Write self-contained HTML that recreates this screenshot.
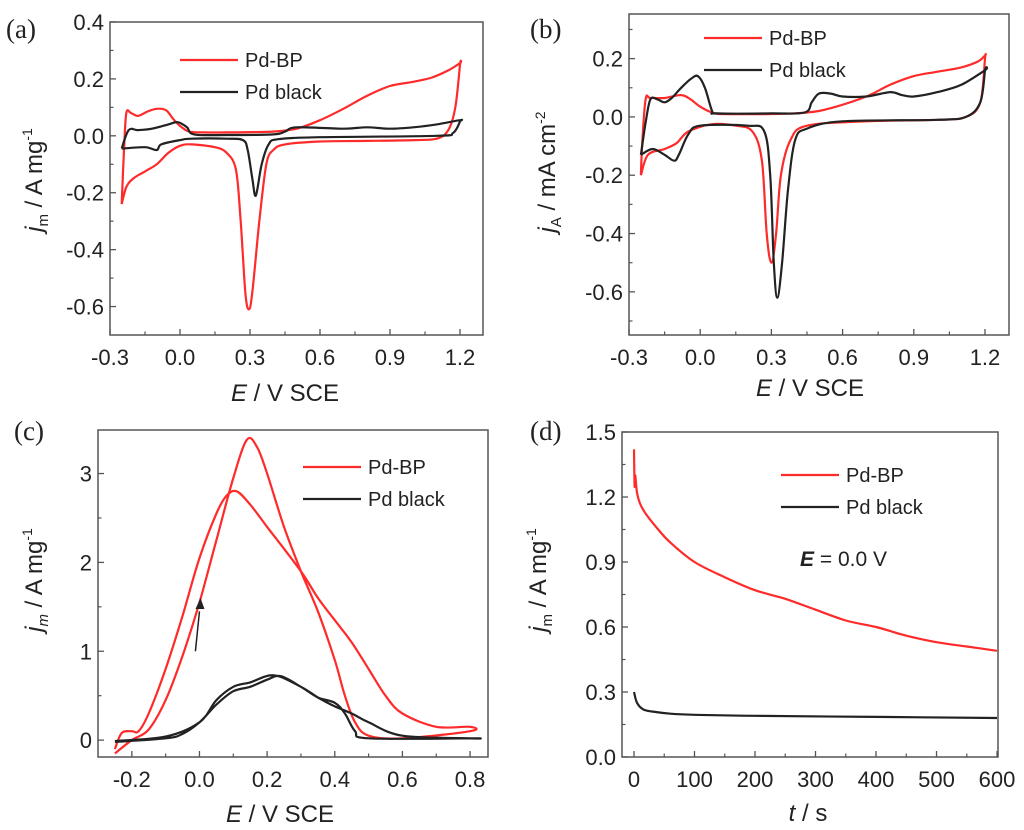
<!DOCTYPE html>
<html><head><meta charset="utf-8"><style>
body{margin:0;background:#fff}
svg{display:block;font-family:"Liberation Sans",sans-serif}
</style></head><body>
<svg id="fig" width="1024" height="830" viewBox="0 0 1024 830">
<g id="g"></g>
</svg>
<script>
// ---------- DATA ----------
const aBP_E=[-0.25,-0.24,-0.23,-0.21,-0.18,-0.14,-0.1,-0.06,-0.03,0.0,0.04,0.1,0.2,0.3,0.4,0.5,0.6,0.7,0.8,0.9,1.0,1.08,1.15,1.2,1.2,1.18,1.15,1.1,1.0,0.8,0.6,0.45,0.4,0.37,0.34,0.31,0.295,0.28,0.26,0.24,0.2,0.15,0.05,0.0,-0.05,-0.1,-0.15,-0.2,-0.23,-0.25];
const aBP_j=[-0.24,-0.05,0.08,0.08,0.07,0.085,0.095,0.09,0.06,0.035,0.015,0.012,0.012,0.013,0.015,0.025,0.055,0.095,0.14,0.175,0.19,0.205,0.23,0.255,0.25,0.1,0.02,-0.01,-0.015,-0.018,-0.02,-0.03,-0.05,-0.1,-0.3,-0.55,-0.61,-0.55,-0.3,-0.12,-0.06,-0.04,-0.03,-0.035,-0.06,-0.1,-0.125,-0.15,-0.18,-0.24];
const aPd_E=[-0.25,-0.22,-0.18,-0.12,-0.05,-0.01,0.03,0.06,0.2,0.4,0.45,0.5,0.7,0.8,0.9,1.0,1.1,1.2,1.2,1.17,1.1,0.6,0.42,0.38,0.35,0.325,0.31,0.29,0.27,0.2,0.05,0.0,-0.08,-0.1,-0.15,-0.25];
const aPd_j=[-0.045,0.02,0.02,0.025,0.04,0.048,0.03,0.005,0.003,0.005,0.015,0.03,0.025,0.03,0.025,0.03,0.04,0.055,0.05,0.01,0.0,-0.005,-0.012,-0.03,-0.1,-0.21,-0.15,-0.05,-0.015,-0.01,-0.01,-0.015,-0.03,-0.05,-0.04,-0.045];
const bBP_E=[-0.25,-0.245,-0.23,-0.21,-0.15,-0.08,-0.04,0.0,0.05,0.1,0.3,0.45,0.55,0.7,0.8,0.9,1.0,1.1,1.17,1.2,1.2,1.18,1.12,1.0,0.7,0.45,0.38,0.34,0.32,0.3,0.28,0.26,0.22,0.15,0.05,-0.05,-0.1,-0.15,-0.22,-0.25];
const bBP_j=[-0.2,-0.1,0.06,0.065,0.065,0.075,0.06,0.035,0.015,0.01,0.01,0.015,0.03,0.07,0.11,0.14,0.155,0.17,0.19,0.21,0.2,0.05,0.0,-0.01,-0.015,-0.03,-0.08,-0.2,-0.4,-0.5,-0.4,-0.15,-0.05,-0.03,-0.025,-0.05,-0.09,-0.11,-0.13,-0.2];
const bPd_E=[-0.25,-0.23,-0.21,-0.18,-0.15,-0.12,-0.08,-0.04,-0.01,0.02,0.05,0.07,0.3,0.44,0.47,0.5,0.55,0.6,0.7,0.8,0.85,0.9,1.0,1.1,1.2,1.2,1.18,1.12,1.0,0.6,0.45,0.4,0.37,0.345,0.325,0.31,0.295,0.27,0.2,0.0,-0.05,-0.09,-0.11,-0.15,-0.2,-0.25];
const bPd_j=[-0.13,-0.02,0.06,0.06,0.05,0.065,0.1,0.13,0.14,0.1,0.02,0.012,0.012,0.015,0.05,0.08,0.08,0.07,0.07,0.085,0.075,0.07,0.085,0.11,0.16,0.16,0.05,0.0,-0.01,-0.015,-0.04,-0.08,-0.25,-0.5,-0.62,-0.5,-0.2,-0.05,-0.03,-0.03,-0.06,-0.13,-0.15,-0.13,-0.11,-0.13];
const cBP_E=[-0.25,-0.2,-0.15,-0.1,-0.05,0.0,0.05,0.1,0.14,0.17,0.2,0.25,0.3,0.35,0.4,0.43,0.46,0.5,0.6,0.8,0.8,0.7,0.6,0.55,0.5,0.45,0.4,0.35,0.3,0.2,0.15,0.11,0.08,0.05,0.0,-0.05,-0.1,-0.15,-0.18,-0.2,-0.23,-0.25];
const cBP_j=[-0.15,0.0,0.12,0.45,0.95,1.55,2.25,2.95,3.38,3.3,3.0,2.4,1.9,1.45,0.9,0.5,0.2,0.05,0.02,0.1,0.15,0.15,0.3,0.5,0.8,1.1,1.35,1.6,1.9,2.4,2.65,2.8,2.75,2.55,2.05,1.4,0.8,0.3,0.1,0.1,0.08,-0.1];
const cPd_E=[-0.25,-0.1,-0.05,0.0,0.05,0.1,0.15,0.2,0.24,0.3,0.35,0.4,0.43,0.46,0.5,0.8,0.8,0.6,0.5,0.45,0.4,0.35,0.3,0.22,0.15,0.1,0.05,0.0,-0.1,-0.25];
const cPd_j=[-0.02,0.02,0.07,0.2,0.4,0.55,0.6,0.68,0.72,0.6,0.48,0.42,0.3,0.1,0.02,0.02,0.02,0.05,0.2,0.3,0.38,0.48,0.6,0.73,0.65,0.6,0.45,0.2,0.04,-0.01];
const dBP_t=[0,1,2,5,10,20,40,60,100,150,200,250,300,350,400,450,500,550,600];
const dBP_j=[1.42,1.25,1.3,1.22,1.17,1.12,1.05,0.99,0.9,0.83,0.77,0.73,0.68,0.63,0.6,0.56,0.53,0.51,0.49];
const dPd_t=[0,5,15,30,60,100,200,400,600];
const dPd_j=[0.3,0.25,0.22,0.21,0.2,0.195,0.19,0.185,0.18];
const aXT=["-0.3","0.0","0.3","0.6","0.9","1.2"], aYT=["-0.6","-0.4","-0.2","0.0","0.2","0.4"];
const bXT=["-0.3","0.0","0.3","0.6","0.9","1.2"], bYT=["-0.6","-0.4","-0.2","0.0","0.2"];
const cXT=["-0.2","0.0","0.2","0.4","0.6","0.8"], cYT=["0","1","2","3"];
const dXT=["0","100","200","300","400","500","600"], dYT=["0.0","0.3","0.6","0.9","1.2","1.5"];

const NS="http://www.w3.org/2000/svg";
const G=document.getElementById('g');
function mk(tag,attrs,parent){const e=document.createElementNS(NS,tag);for(const k in attrs)e.setAttribute(k,attrs[k]);(parent||G).appendChild(e);return e;}
function lin(d0,d1,r0,r1){return v=>r0+(v-d0)*(r1-r0)/(d1-d0);}
function smooth(pts){let d="M"+pts[0][0].toFixed(1)+","+pts[0][1].toFixed(1);
 for(let i=0;i<pts.length-1;i++){const p0=pts[i-1]||pts[i],p1=pts[i],p2=pts[i+1],p3=pts[i+2]||p2;
  const c1=[p1[0]+(p2[0]-p0[0])/6,p1[1]+(p2[1]-p0[1])/6],c2=[p2[0]-(p3[0]-p1[0])/6,p2[1]-(p3[1]-p1[1])/6];
  d+=" C"+c1[0].toFixed(1)+","+c1[1].toFixed(1)+" "+c2[0].toFixed(1)+","+c2[1].toFixed(1)+" "+p2[0].toFixed(1)+","+p2[1].toFixed(1);}
 return d;}

function panel(p){
 const grp=mk('g',{});
 
 
 const X=lin(p.x0,p.x1,p.L,p.R), Y=lin(p.y0,p.y1,p.B,p.T);
 p.series.forEach(s=>{
  const pts=s.x.map((v,i)=>[X(v),Y(s.y[i])]);
  const path=mk('path',{d:smooth(pts),fill:'none',stroke:s.c,'stroke-width':2.2,'stroke-linejoin':'round'},grp);
  
  
 });
 const fr=mk('rect',{x:p.L,y:p.T,width:p.R-p.L,height:p.B-p.T,fill:'none',stroke:'#555','stroke-width':1.5},grp);
 
 
 p.xt.forEach((lab,i)=>{const v=p.xs+i*p.xstep,x=X(v);
  mk('line',{x1:x,x2:x,y1:p.B,y2:p.B-6,stroke:'#555','stroke-width':1.3},grp);
  const t=mk('text',{x:x,y:p.B+30,'text-anchor':'middle','font-size':22,fill:'#222'},grp);t.textContent=lab;
  
  
  const m=v+p.xstep/2; if(m<p.x1){const xm=X(m);mk('line',{x1:xm,x2:xm,y1:p.B,y2:p.B-3.5,stroke:'#555','stroke-width':1.2},grp);}
  if(i==0){const m2=v-p.xstep/2; if(m2>p.x0){const xm=X(m2);mk('line',{x1:xm,x2:xm,y1:p.B,y2:p.B-3.5,stroke:'#555','stroke-width':1.2},grp);}}
 });
 p.yt.forEach((lab,i)=>{const v=p.ys+i*p.ystep,y=Y(v);
  mk('line',{x1:p.L,x2:p.L+6,y1:y,y2:y,stroke:'#555','stroke-width':1.3},grp);
  const t=mk('text',{x:p.L-6,y:y+8,'text-anchor':'end','font-size':22,fill:'#222'},grp);t.textContent=lab;
  
  
  const m=v+p.ystep/2; if(m<p.y1){const ym=Y(m);mk('line',{x1:p.L,x2:p.L+3.5,y1:ym,y2:ym,stroke:'#555','stroke-width':1.2},grp);}
  if(i==0){const m2=v-p.ystep/2; if(m2>p.y0){const ym=Y(m2);mk('line',{x1:p.L,x2:p.L+3.5,y1:ym,y2:ym,stroke:'#555','stroke-width':1.2},grp);}}
 });
 [['#ff2a2a','Pd-BP'],['#222','Pd black']].forEach((l,i)=>{
  const y=p.legY+i*32;
  const ln=mk('line',{x1:p.legX,x2:p.legX+58,y1:y,y2:y,stroke:l[0],'stroke-width':2.2},grp);
  
  
  const t=mk('text',{x:p.legX+65,y:y+7,'font-size':20,fill:'#222'},grp);t.textContent=l[1];
  
  
 });
 const pl=mk('text',{x:p.plX,y:p.plY,'font-size':27,'font-family':'Liberation Serif, serif',fill:'#222'},grp);pl.textContent='('+p.id+')';
 
 
 const xt=mk('text',{x:p.xtX,y:p.xtY,'text-anchor':'middle','font-size':24,fill:'#222'},grp);
 xt.innerHTML=p.xtitle;
 
 
 const yt=mk('text',{x:0,y:0,'text-anchor':'middle','font-size':24,fill:'#222',transform:'translate('+p.ytX+','+p.ytY+') rotate(-90)'},grp);
 yt.innerHTML=p.ytitle;
 
 
 return {X,Y,grp};
}
const EX='<tspan font-style="italic">E</tspan> / V SCE';
panel({id:'a',L:110,R:483,T:22,B:335,x0:-0.3,x1:1.2+23/233.3,y0:-0.7,y1:0.4,
 xs:-0.3,xstep:0.3,xt:aXT,ys:-0.6,ystep:0.2,yt:aYT,legX:180,legY:60,plX:6,plY:38,
 xtX:285,xtY:401,ytX:42,ytY:180,xtitle:EX,
 ytitle:'<tspan font-style="italic">j</tspan><tspan font-size="15" dy="6">m</tspan><tspan dy="-6"> / A mg</tspan><tspan font-size="14" dy="-10">-1</tspan>',
 series:[{x:aBP_E,y:aBP_j,c:'#ff2a2a',name:'pd-bp-curve'},{x:aPd_E,y:aPd_j,c:'#222',name:'pd-black-curve'}]});
panel({id:'b',L:629,R:1009,T:14,B:335,x0:-0.3,x1:1.2+24/237.3,y0:-0.748,y1:0.353,
 xs:-0.3,xstep:0.3,xt:bXT,ys:-0.6,ystep:0.2,yt:bYT,legX:704,legY:38,plX:530,plY:38,
 xtX:810,xtY:396,ytX:555,ytY:172,xtitle:EX,
 ytitle:'<tspan font-style="italic">j</tspan><tspan font-size="15" dy="6">A</tspan><tspan dy="-6"> / mA cm</tspan><tspan font-size="14" dy="-10">-2</tspan>',
 series:[{x:bBP_E,y:bBP_j,c:'#ff2a2a',name:'pd-bp-curve'},{x:bPd_E,y:bPd_j,c:'#222',name:'pd-black-curve'}]});
const pc=panel({id:'c',L:98,R:488,T:430,B:757,x0:-0.30,x1:0.853,y0:-0.19,y1:3.49,
 xs:-0.2,xstep:0.2,xt:cXT,ys:0,ystep:1,yt:cYT,legX:303,legY:467,plX:14,plY:440,
 xtX:280,xtY:822,ytX:42,ytY:580,xtitle:EX,
 ytitle:'<tspan font-style="italic">j</tspan><tspan font-size="15" dy="6" font-style="italic">m</tspan><tspan dy="-6"> / A mg</tspan><tspan font-size="14" dy="-10">-1</tspan>',
 series:[{x:cBP_E,y:cBP_j,c:'#ff2a2a',name:'pd-bp-curve'},{x:cPd_E,y:cPd_j,c:'#222',name:'pd-black-curve'}]});
const ar=mk('path',{d:'M'+pc.X(-0.012)+','+pc.Y(1.0)+' L'+pc.X(0.0)+','+pc.Y(1.45),stroke:'#222','stroke-width':1.5,fill:'none'});


const ah=mk('path',{d:'M'+(pc.X(0.003))+','+(pc.Y(1.6))+' l-5,11 l9,0 z',fill:'#222'});


panel({id:'d',L:622,R:998,T:432,B:757,x0:-19.8,x1:601.6,y0:0,y1:1.5,
 xs:0,xstep:100,xt:dXT,ys:0,ystep:0.3,yt:dYT,legX:781,legY:475,plX:530,plY:440,
 xtX:808,xtY:821,ytX:546,ytY:580,xtitle:'<tspan font-style="italic">t</tspan> / s',
 ytitle:'<tspan font-style="italic">j</tspan><tspan font-size="15" dy="6">m</tspan><tspan dy="-6"> / A mg</tspan><tspan font-size="14" dy="-10">-1</tspan>',
 series:[{x:dBP_t,y:dBP_j,c:'#ff2a2a',name:'pd-bp-curve'},{x:dPd_t,y:dPd_j,c:'#222',name:'pd-black-curve'}]});
const et=mk('text',{x:800,y:566,'font-size':21,fill:'#222'});
et.innerHTML='<tspan font-style="italic" font-weight="bold">E</tspan> = 0.0 V';


</script>
</body></html>
